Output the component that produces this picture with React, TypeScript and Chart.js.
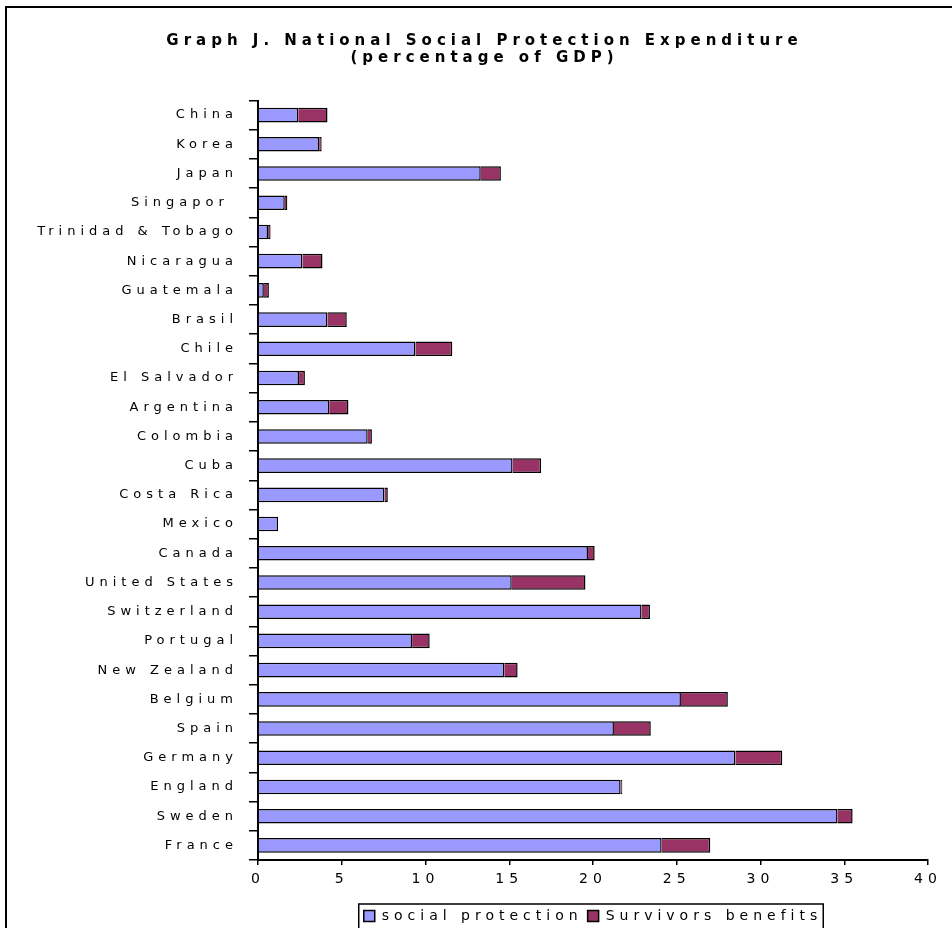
import { useEffect, useRef } from 'react';
import { Chart, registerables } from 'chart.js';

Chart.register(...registerables);

// Countries, top to bottom
const countries = [
  'China', 'Korea', 'Japan', 'Singapor ', 'Trinidad & Tobago', 'Nicaragua', 'Guatemala',
  'Brasil', 'Chile', 'El Salvador', 'Argentina', 'Colombia', 'Cuba', 'Costa Rica', 'Mexico',
  'Canada', 'United States', 'Switzerland', 'Portugal', 'New Zealand', 'Belgium', 'Spain',
  'Germany', 'England', 'Sweden', 'France',
];

// Social protection expenditure, % of GDP
const socialProtection = [
  2.4, 3.65, 13.3, 1.6, 0.6, 2.65, 0.35,
  4.15, 9.4, 2.45, 4.25, 6.55, 15.2, 7.55, 1.2,
  19.7, 15.15, 22.9, 9.2, 14.7, 25.25, 21.25,
  28.5, 21.65, 34.6, 24.1,
];

// Survivors benefits, % of GDP
const survivorsBenefits = [
  1.75, 0.15, 1.2, 0.15, 0.15, 1.2, 0.3,
  1.15, 2.2, 0.35, 1.15, 0.25, 1.7, 0.2, 0,
  0.4, 4.4, 0.5, 1.05, 0.8, 2.8, 2.2,
  2.8, 0.1, 0.9, 2.9,
];

const seriesNames = ['social protection', 'Survivors benefits'];
const titleLines = ['Graph J. National Social Protection Expenditure', '(percentage of GDP)'];
const xMin = 0;
const xMax = 40;
const xStep = 5;

const FONT = 'DejaVu Sans';
const LETTER_SPACING = '5px';

// Wide letter spacing for every text drawn on the canvas
const letterSpacingPlugin = {
  id: 'letterSpacing',
  beforeInit(chart: any) {
    chart.ctx.letterSpacing = LETTER_SPACING;
  },
  beforeUpdate(chart: any) {
    chart.ctx.letterSpacing = LETTER_SPACING;
  },
  beforeDraw(chart: any) {
    chart.ctx.letterSpacing = LETTER_SPACING;
  },
};

// Let long category labels run into the left margin instead of being clipped
const labelAreaPlugin = {
  id: 'labelArea',
  afterLayout(chart: any) {
    const y = chart.scales.y;
    if (y) y.left = 0;
  },
};

// Outline box around the legend items
const legendFramePlugin = {
  id: 'legendFrame',
  afterDraw(chart: any) {
    const lg = chart.legend;
    if (!lg || !lg.legendHitBoxes || !lg.legendHitBoxes.length) return;
    const boxes = lg.legendHitBoxes;
    const left = Math.min(...boxes.map((b: any) => b.left)) - 5;
    const right = Math.max(...boxes.map((b: any) => b.left + b.width)) + 1;
    const ctx = chart.ctx;
    ctx.save();
    ctx.strokeStyle = '#000';
    ctx.lineWidth = 1.5;
    ctx.strokeRect(left, lg.top, right - left, lg.height + 20);
    ctx.restore();
  },
};

export default function App() {
  const canvasRef = useRef<HTMLCanvasElement | null>(null);

  useEffect(() => {
    const canvas = canvasRef.current;
    if (!canvas) return;
    const chart = new Chart(canvas, {
      type: 'bar',
      data: {
        labels: countries,
        datasets: [
          {
            label: seriesNames[0],
            data: socialProtection,
            backgroundColor: '#9999FF',
            borderColor: '#000000',
            borderWidth: 1.5,
          },
          {
            label: seriesNames[1],
            data: survivorsBenefits,
            backgroundColor: '#993366',
            borderColor: '#000000',
            borderWidth: 1.5,
          },
        ],
      },
      options: {
        indexAxis: 'y',
        animation: false,
        responsive: false,
        maintainAspectRatio: false,
        devicePixelRatio: 1,
        datasets: {
          bar: { categoryPercentage: 1, barPercentage: 0.5 },
        },
        layout: { padding: { left: 41, right: 24, top: 0, bottom: 0 } },
        scales: {
          x: {
            stacked: true,
            min: xMin,
            max: xMax,
            ticks: { stepSize: xStep, color: '#000', font: { family: FONT, size: 14 }, padding: 6 },
            grid: { drawOnChartArea: false, drawTicks: true, tickLength: 5, color: '#000', lineWidth: 1.5 },
            border: { display: true, color: '#000', width: 2 },
            afterFit(scale: any) {
              scale.height = 44;
            },
          },
          y: {
            stacked: true,
            ticks: { color: '#000', font: { family: FONT, size: 13 }, padding: 11, autoSkip: false },
            grid: { drawOnChartArea: false, drawTicks: true, tickLength: 9, color: '#000', lineWidth: 1.5 },
            border: { display: true, color: '#000', width: 2 },
            afterFit(scale: any) {
              scale.width = 217;
            },
          },
        },
        plugins: {
          title: {
            display: true,
            text: titleLines,
            color: '#000',
            font: { family: FONT, size: 15, weight: 'bold', lineHeight: 1.15 },
            padding: { top: 32, bottom: 34 },
          },
          legend: {
            display: true,
            position: 'bottom',
            fullSize: false,
            labels: {
              color: '#000',
              font: { family: FONT, size: 14 },
              boxWidth: 11,
              boxHeight: 11,
              padding: 5,
            },
          },
          tooltip: { enabled: false },
        },
      },
      plugins: [letterSpacingPlugin, labelAreaPlugin, legendFramePlugin],
    });
    return () => chart.destroy();
  }, []);

  return (
    <div
      style={{
        position: 'absolute',
        left: 0,
        top: 0,
        width: 952,
        height: 928,
        overflow: 'hidden',
        background: '#fff',
      }}
    >
      <canvas
        ref={canvasRef}
        width={952}
        height={933}
        style={{ position: 'absolute', left: 0, top: 0, width: 952, height: 933 }}
      />
      <div
        style={{
          position: 'absolute',
          left: 5,
          top: 6,
          width: 960,
          height: 940,
          borderLeft: '2px solid #000',
          borderTop: '2px solid #000',
          pointerEvents: 'none',
        }}
      />
    </div>
  );
}
